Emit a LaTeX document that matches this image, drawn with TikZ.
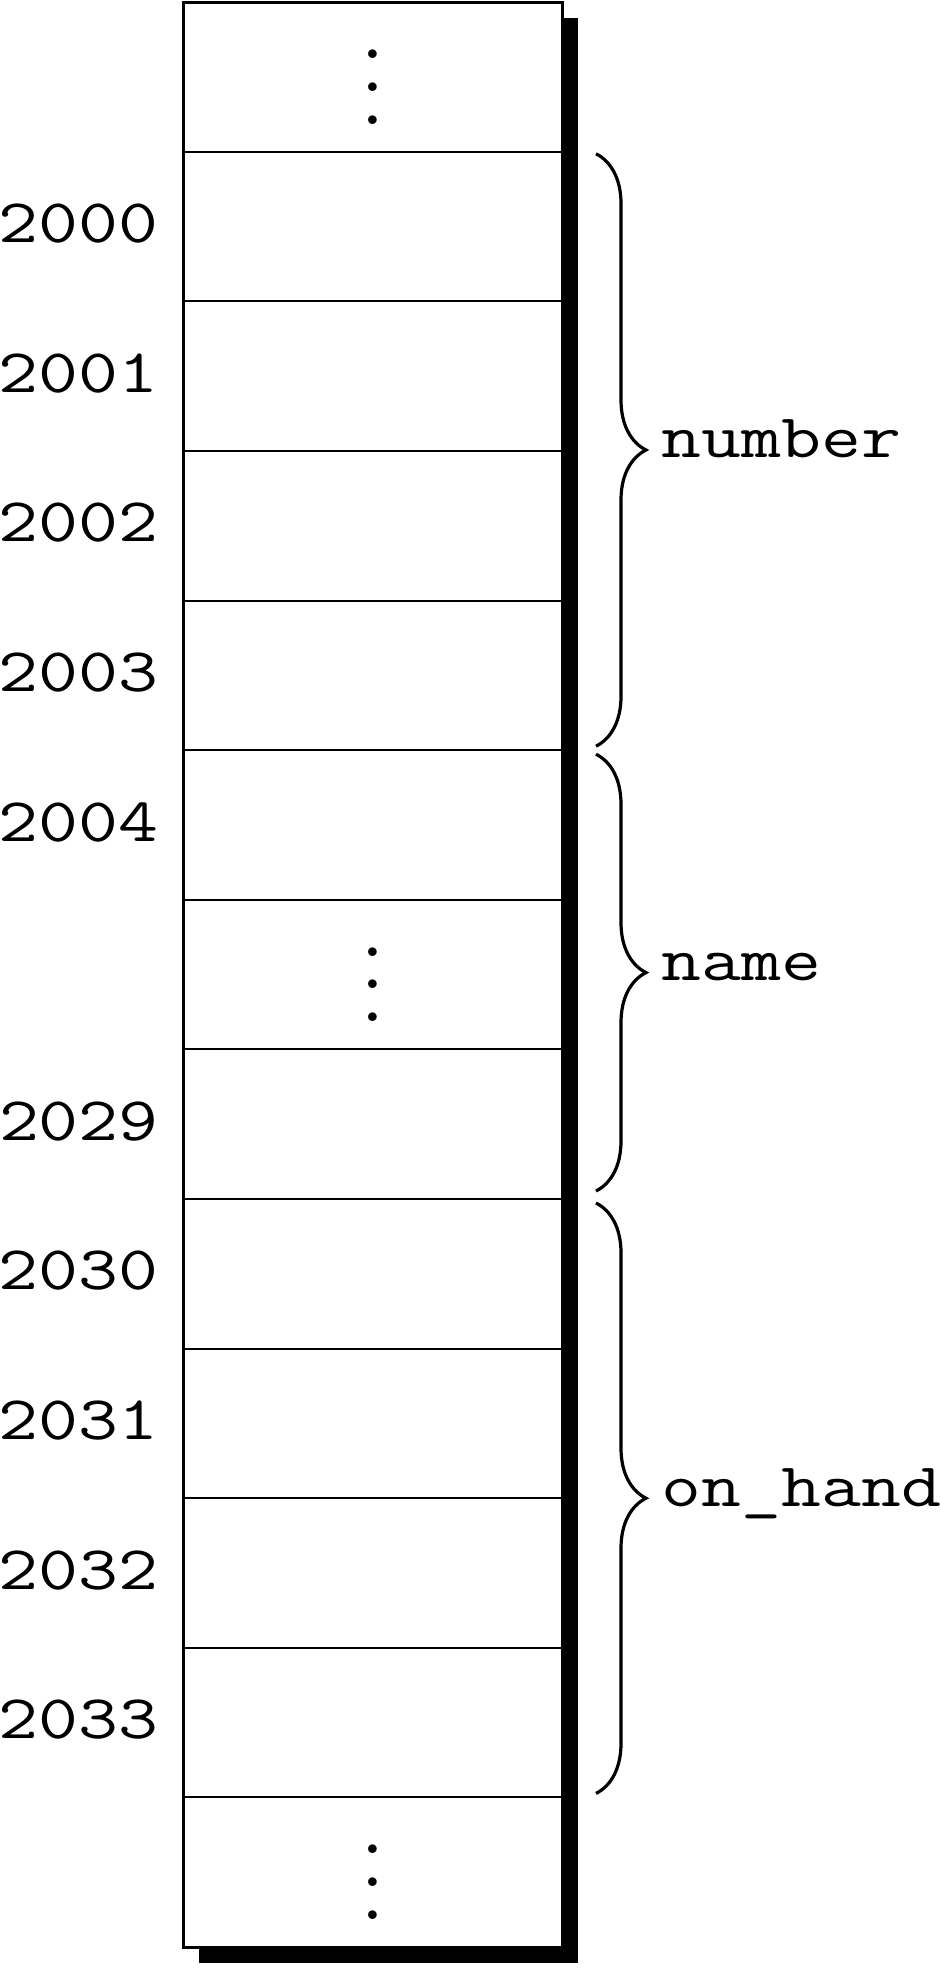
\documentclass[tikz,border=0pt]{standalone}
\usepackage{fontspec}
\setmonofont{Latin Modern Mono}[FakeStretch=1.25]
\usetikzlibrary{positioning,decorations.pathreplacing,backgrounds}
\newcommand{\celldots}{\scalebox{4.1}{\vbox{\baselineskip=4pt\lineskiplimit=0pt\hbox{.}\hbox{.}\hbox{.}}}}

\begin{document}
\begin{tikzpicture}[
    x=0.5pt, y=-0.5pt,
    cell/.style={draw, fill=white, line width=1pt, minimum width=189.5pt, minimum height=74.8pt, inner sep=0pt, outer sep=0pt},
    addr/.style={font=\fontsize{31}{36}\selectfont\ttfamily, inner sep=0pt, anchor=base east},
    field/.style={font=\fontsize{31}{36}\selectfont\ttfamily, inner sep=0pt, anchor=base west},
    dots/.style={inner sep=0pt},
    brace/.style={decorate, decoration={brace, amplitude=25pt}, line width=1.6pt},
    frame/.style={draw, line width=1.5pt},
    shadow/.style={fill=black}
]
\useasboundingbox (0,0) rectangle (940,1968);
% memory cells
\node[cell] (c0) at (372.5,77) {};
\foreach \i [remember=\i as \j (initially 0)] in {1,...,12}
  \node[cell, below=0pt of c\j] (c\i) {};
\draw[frame] (c0.north west) rectangle (c12.south east);
\begin{scope}[on background layer]
  \fill[shadow] ([shift={(8pt,-8pt)}]c0.north west) rectangle ([shift={(8pt,-8pt)}]c12.south east);
\end{scope}
% elided cells
\foreach \r in {0,6,12}
  \node[dots] (gap\r) at ([yshift=-5pt]c\r.center) {\celldots};
% addresses
\foreach \r/\a in {1/2000,2/2001,3/2002,4/2003,5/2004,7/2029,8/2030,9/2031,10/2032,11/2033}
  \node[addr] (a\a) at ([xshift=-12pt,yshift=-8pt]c\r.west) {\a};
% fields
\draw[brace] ([xshift=17pt,yshift=-1pt]c1.north east) -- ([xshift=17pt,yshift=2pt]c4.south east)
  node[field, midway, xshift=32pt, yshift=-4pt] (number) {number};
\draw[brace] ([xshift=17pt,yshift=-2pt]c5.north east) -- ([xshift=17pt,yshift=4pt]c7.south east)
  node[field, midway, xshift=32pt, yshift=-4pt] (name) {name};
\draw[brace] ([xshift=17pt,yshift=-2pt]c8.north east) -- ([xshift=17pt,yshift=2pt]c11.south east)
  node[field, midway, xshift=32pt, yshift=-4pt] (onhand) {on\_hand};
\end{tikzpicture}
\end{document}
